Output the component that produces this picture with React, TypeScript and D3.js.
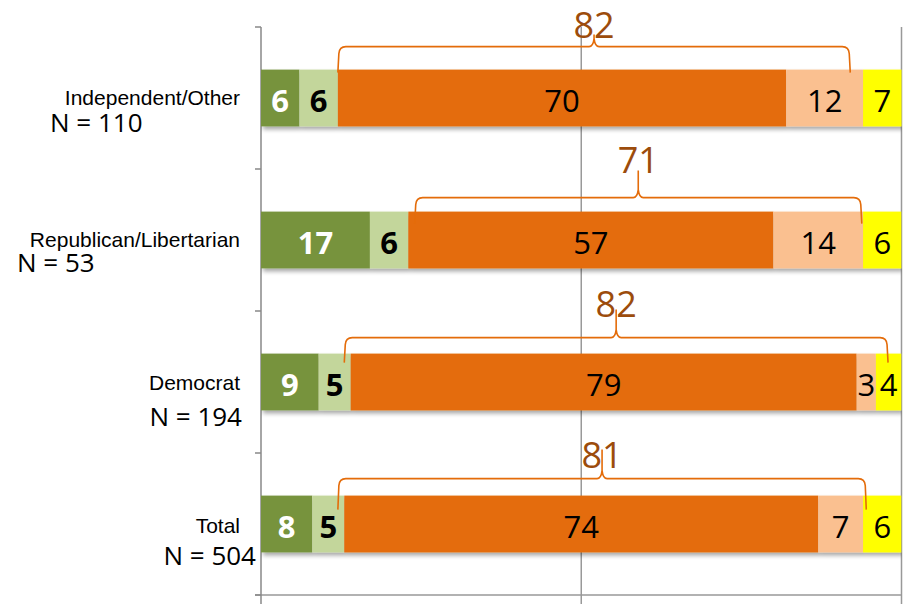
import React from "react";
import * as d3 from "d3";

const categories = ["Independent/Other", "Republican/Libertarian", "Democrat", "Total"];
const sampleLabels = ["N = 110", "N = 53", "N = 194", "N = 504"];
const s1 = [6, 17, 9, 8];
const s2 = [6, 6, 5, 5];
const s3 = [70, 57, 79, 74];
const s4 = [12, 14, 3, 7];
const s5 = [7, 6, 4, 6];
const bracketTotals = [82, 71, 82, 81];
const bracketStart = [12, 24, 13, 12];
const bracketEnd = [92, 93.8, 97.9, 94.5];

const colors = ["#77933c", "#c3d69b", "#e46c0a", "#fac090", "#ffff00"];
const labelFill = ["#ffffff", "#000000", "#000000", "#000000", "#000000"];
const labelWeight = ["bold", "bold", "normal", "normal", "normal"];

// layout (pixels)
const W = 906, H = 604;
const X0 = 261, X1 = 901.5, Y0 = 27, Y1 = 595;
const bracketRise = [23, 14, 16, 17];
const bracketDrop = [3, 12, 9, 14];
const bracketPeak = [12, 27, 28, 29];
const bracketLabelGap = [9, 25, 21, 11];
const catLabelDy = [6.5, 6.5, 8, 9];
const nLabelDy = [34, 32, 44, 41];
const nLabelX: [number, "start" | "end"][] = [[50, "start"], [17, "start"], [242, "end"], [256, "end"]];

const series = [s1, s2, s3, s4, s5];

export default function App() {
  const x = d3.scaleLinear().domain([0, 100]).range([X0, X1]);
  const y = d3.scaleBand<string>().domain(categories).range([Y0, Y1]).paddingInner(0.6).paddingOuter(0.3);
  const bw = y.bandwidth();
  const step = y.step();

  const rows = categories.map((c, i) => {
    let acc = 0;
    const segs = series.map((s, k) => {
      const v = s[i];
      const seg = { k, v, x0: acc, x1: acc + v };
      acc += v;
      return seg;
    });
    return { c, i, segs };
  });

  const bandEdges = d3.range(categories.length + 1).map((j) => Y0 + j * step);
  const gridVals = [50, 100];

  const bracePath = (i: number) => {
    const top = y(categories[i])!;
    const yH = top - bracketRise[i];
    const yE = top + bracketDrop[i];
    const xa = x(bracketStart[i]);
    const xb = x(bracketEnd[i]);
    const xc = (xa + xb) / 2;
    const r = 7;
    const pk = yH - bracketPeak[i];
    const p = d3.path();
    p.moveTo(xa, yE);
    p.lineTo(xa + 1, yH + r);
    p.quadraticCurveTo(xa + 1.5, yH, xa + r + 1, yH);
    p.lineTo(xc - 5, yH);
    p.quadraticCurveTo(xc - 1, yH, xc, yH - 8);
    p.lineTo(xc, pk);
    p.moveTo(xc, yH - 8);
    p.quadraticCurveTo(xc + 1, yH, xc + 5, yH);
    p.lineTo(xb - r - 1, yH);
    p.quadraticCurveTo(xb - 1.5, yH, xb - 1, yH + r);
    p.lineTo(xb, yE);
    return { d: p.toString(), xc, yLabel: yH - bracketLabelGap[i] };
  };

  return (
    <svg width={W} height={H} style={{ position: "absolute", left: 0, top: 0, background: "#fff" }}>
      <defs>
        <clipPath id="plotClip">
          <rect x={X0} y={0} width={X1 - X0} height={H} />
        </clipPath>
        <filter id="shadow" x="-5%" y="-20%" width="110%" height="150%">
          <feDropShadow dx="2" dy="3" stdDeviation="2" floodColor="#000" floodOpacity="0.35" />
        </filter>
      </defs>

      {gridVals.map((g) => (
        <line key={g} x1={x(g)} x2={x(g)} y1={Y0} y2={H} stroke="#999" strokeWidth={1.5} />
      ))}
      <line x1={X0 - 6} x2={x(100)} y1={Y1} y2={Y1} stroke="#999" strokeWidth={1.5} />
      <line x1={X0} x2={X0} y1={Y0} y2={H} stroke="#888" strokeWidth={1.5} />
      {bandEdges.map((e, j) => (
        <line key={j} x1={X0 - 6} x2={X0} y1={e} y2={e} stroke="#888" strokeWidth={1.5} />
      ))}

      <g clipPath="url(#plotClip)">
        {rows.map((row) => (
          <g key={row.c} filter="url(#shadow)">
            {row.segs.map((s) => (
              <rect
                key={s.k}
                x={x(s.x0)}
                y={y(row.c)}
                width={x(s.x1) - x(s.x0)}
                height={bw}
                fill={colors[s.k]}
              />
            ))}
          </g>
        ))}
      </g>

      {rows.map((row) =>
        row.segs.map((s) => (
          <text
            key={row.c + s.k}
            x={(x(s.x0) + Math.min(x(s.x1), X1)) / 2}
            y={y(row.c)! + bw / 2 + 14}
            textAnchor="middle"
            fontFamily="'Open Sans', sans-serif"
            fontSize={31}
            fontWeight={labelWeight[s.k]}
            fill={labelFill[s.k]}
          >
            {s.v}
          </text>
        ))
      )}

      {categories.map((c, i) => {
        const b = bracePath(i);
        return (
          <g key={c}>
            <path d={b.d} fill="none" stroke="#e46c0a" strokeWidth={1.6} />
            <text
              x={b.xc}
              y={b.yLabel}
              textAnchor="middle"
              fontFamily="'Open Sans', sans-serif"
              fontSize={36}
              fill="#9c4c0c"
            >
              {bracketTotals[i]}
            </text>
          </g>
        );
      })}

      {categories.map((c, i) => {
        const cy = y(c)! + bw / 2;
        return (
          <g key={c}>
            <text
              x={240}
              y={cy + catLabelDy[i]}
              textAnchor="end"
              fontFamily="'Liberation Sans', Arial, sans-serif"
              fontSize={21}
              fill="#000"
            >
              {c}
            </text>
            <text
              x={nLabelX[i][0]}
              y={cy + nLabelDy[i]}
              textAnchor={nLabelX[i][1]}
              fontFamily="'Open Sans', sans-serif"
              fontSize={26}
              fill="#000"
            >
              {sampleLabels[i]}
            </text>
          </g>
        );
      })}
    </svg>
  );
}
